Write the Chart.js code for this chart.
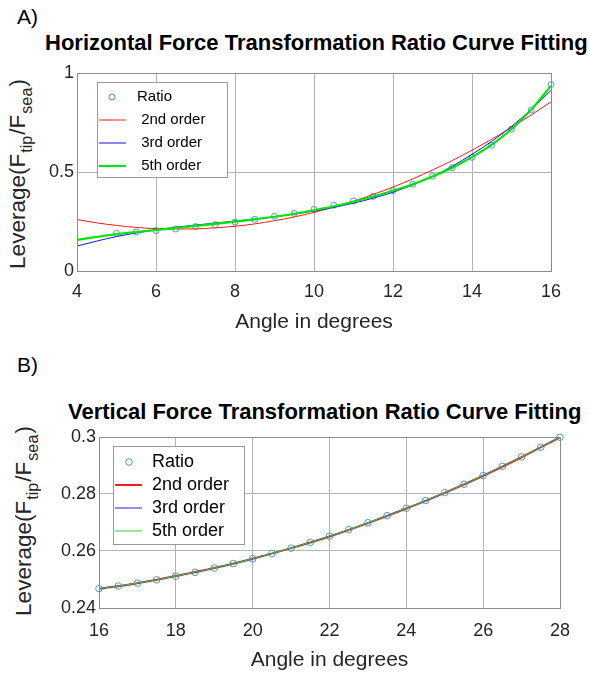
<!DOCTYPE html>
<html>
<head>
<meta charset="utf-8">
<script src="https://cdn.jsdelivr.net/npm/chart.js@4.4.1/dist/chart.umd.min.js"></script>
<style>
  html, body { margin:0; padding:0; background:#fff; }
  body { width:590px; height:675px; position:relative; overflow:hidden; font-family:"Liberation Sans", Arial, sans-serif; }
  canvas { position:absolute; left:0; }
  .lbl { position:absolute; color:#000; white-space:nowrap; line-height:1; }
  .ttl { position:absolute; font-weight:bold; font-size:22px; color:#000; white-space:nowrap; line-height:22px; }
  .ytitle { position:absolute; font-size:22.5px; color:#262626; white-space:nowrap; line-height:1;
            transform:translate(-50%,-50%) rotate(-90deg); }
  .ytitle sub { font-size:0.72em; vertical-align:-0.45em; margin:0 1px; }
</style>
</head>
<body>
<div class="lbl" style="left:17px;top:6px;font-size:21px;">A)</div>
<div class="ttl" style="left:45px;top:32px;">Horizontal Force Transformation Ratio Curve Fitting</div>
<div class="ytitle" style="left:21px;top:174px;">Leverage(F<sub>tip</sub>/F<sub>sea</sub>)</div>

<div class="lbl" style="left:17px;top:354px;font-size:21px;">B)</div>
<div class="ttl" style="left:68px;top:401px;">Vertical Force Transformation Ratio Curve Fitting</div>
<div class="ytitle" style="left:27px;top:521px;">Leverage(F<sub>tip</sub>/F<sub>sea</sub>)</div>

<canvas id="chartA" width="590" height="340" style="top:0px"></canvas>
<canvas id="chartB" width="590" height="335" style="top:340px"></canvas>

<script>
// ---------- DATA ----------
const seriesLabelsA = ['Ratio', ' 2nd order', ' 3rd order', ' 5th order'];
const seriesLabelsB = ['Ratio', '2nd order', '3rd order', '5th order'];

// Chart A: horizontal force transformation ratio
const anglesA = [5,5.5,6,6.5,7,7.5,8,8.5,9,9.5,10,10.5,11,11.5,12,12.5,13,13.5,14,14.5,15,15.5,16];
const ratioA  = [0.190,0.197,0.204,0.212,0.224,0.234,0.247,0.261,0.276,0.291,0.311,0.332,0.354,0.377,0.406,0.438,0.478,0.522,0.574,0.635,0.716,0.813,0.941];
const fitAnglesA = [4,4.5,5,5.5,6,6.5,7,7.5,8,8.5,9,9.5,10,10.5,11,11.5,12,12.5,13,13.5,14,14.5,15,15.5,16];
const fit2A = [0.260,0.243,0.230,0.220,0.214,0.212,0.213,0.218,0.226,0.238,0.254,0.273,0.296,0.323,0.353,0.387,0.424,0.465,0.510,0.558,0.610,0.666,0.725,0.788,0.854];
const fit3A = [0.126,0.151,0.174,0.192,0.208,0.221,0.232,0.242,0.252,0.262,0.274,0.287,0.303,0.321,0.343,0.368,0.398,0.435,0.478,0.529,0.589,0.655,0.730,0.816,0.912];
const fit5A = [0.157,0.172,0.186,0.197,0.207,0.217,0.228,0.238,0.249,0.261,0.274,0.289,0.307,0.327,0.350,0.376,0.405,0.438,0.477,0.522,0.575,0.638,0.716,0.815,0.935];
const xTicksA = [4,6,8,10,12,14,16];
const yTicksA = [0,0.5,1];
const yTickLabelsA = ['0','0.5','1'];

// Chart B: vertical force transformation ratio
const anglesB = [16,16.5,17,17.5,18,18.5,19,19.5,20,20.5,21,21.5,22,22.5,23,23.5,24,24.5,25,25.5,26,26.5,27,27.5,28];
const ratioB  = [0.2468,0.2477,0.2487,0.2499,0.2512,0.2525,0.2540,0.2556,0.2573,0.2591,0.2610,0.2630,0.2652,0.2675,0.2699,0.2724,0.2750,0.2777,0.2805,0.2834,0.2865,0.2897,0.2930,0.2964,0.2999];
const fitAnglesB = [16,17,18,19,20,21,22,23,24,25,26,27,28];
const fit2B = [0.2467,0.2487,0.2512,0.2540,0.2573,0.2610,0.2651,0.2698,0.2749,0.2804,0.2864,0.2929,0.2999];
const fit3B = [0.2468,0.2487,0.2512,0.2540,0.2573,0.2610,0.2652,0.2699,0.2750,0.2805,0.2865,0.2930,0.2999];
const fit5B = [0.2468,0.2487,0.2512,0.2540,0.2573,0.2610,0.2652,0.2699,0.2750,0.2805,0.2865,0.2930,0.2999];
const xTicksB = [16,18,20,22,24,26,28];
const yTicksB = [0.24,0.26,0.28,0.3];
const yTickLabelsB = ['0.24','0.26','0.28','0.3'];

// ---------- HELPERS ----------
const FONT = '"Liberation Sans", Arial, sans-serif';
const pts = (xs, ys) => xs.map((x, i) => ({x, y: ys[i]}));

const boxPlugin = {
  id: 'axesBox',
  afterDatasetsDraw(chart) {
    const {ctx, chartArea: a} = chart;
    ctx.save();
    ctx.strokeStyle = '#8c8c8c';
    ctx.lineWidth = 1;
    ctx.strokeRect(Math.round(a.left) + 0.5, Math.round(a.top) + 0.5,
                   Math.round(a.right - a.left), Math.round(a.bottom - a.top));
    ctx.restore();
  }
};

const legendPlugin = {
  id: 'innerLegend',
  afterDraw(chart, args, o) {
    const ctx = chart.ctx;
    ctx.save();
    ctx.fillStyle = '#ffffff';
    ctx.fillRect(o.x, o.y, o.w, o.h);
    ctx.strokeStyle = '#9a9a9a';
    ctx.lineWidth = 1;
    ctx.strokeRect(o.x + 0.5, o.y + 0.5, o.w, o.h);
    ctx.font = o.size + 'px ' + FONT;
    ctx.textBaseline = 'middle';
    chart.data.datasets.forEach((ds, i) => {
      const y = o.y + o.first + i * o.row;
      if (ds.showLine === false) {
        ctx.beginPath();
        ctx.strokeStyle = ds.borderColor;
        ctx.lineWidth = 1;
        ctx.arc(o.markerX, y, ds.pointRadius, 0, Math.PI * 2);
        ctx.stroke();
      } else {
        ctx.beginPath();
        ctx.strokeStyle = ds.borderColor;
        ctx.lineWidth = ds.borderWidth;
        ctx.moveTo(o.lineX0, y);
        ctx.lineTo(o.lineX1, y);
        ctx.stroke();
      }
      ctx.fillStyle = '#000';
      ctx.fillText(ds.label, o.textX, y);
    });
    ctx.restore();
  }
};

function makeScales(xMin, xMax, xTicks, yMin, yMax, yTicks, yLabels, yWidth, xHeight, titlePad, tickPadX) {
  return {
    x: {
      type: 'linear', min: xMin, max: xMax,
      afterBuildTicks: s => { s.ticks = xTicks.map(v => ({value: v})); },
      afterFit: s => { s.height = xHeight; },
      grid: { color: '#b4b4b4', drawTicks: false, lineWidth: 1 },
      border: { display: false },
      ticks: { color: '#262626', font: { family: FONT, size: 18 }, padding: tickPadX, maxRotation: 0,
               callback: v => String(v) },
      title: { display: true, text: 'Angle in degrees', color: '#262626',
               font: { family: FONT, size: 21 }, padding: { top: 0, bottom: titlePad } }
    },
    y: {
      type: 'linear', min: yMin, max: yMax,
      afterBuildTicks: s => { s.ticks = yTicks.map(v => ({value: v})); },
      afterFit: s => { s.width = yWidth; },
      grid: { color: '#b4b4b4', drawTicks: false, lineWidth: 1 },
      border: { display: false },
      ticks: { color: '#262626', font: { family: FONT, size: 18 }, padding: 3,
               callback: v => yLabels[yTicks.indexOf(v)] !== undefined ? yLabels[yTicks.indexOf(v)] : String(v) }
    }
  };
}

const markerColor = '#4a9bd1';

// ---------- CHART A ----------
new Chart(document.getElementById('chartA'), {
  type: 'scatter',
  data: {
    datasets: [
      { label: seriesLabelsA[0], data: pts(anglesA, ratioA), showLine: false, pointRadius: 3,
        pointStyle: 'circle', borderColor: markerColor, backgroundColor: 'rgba(0,0,0,0)', borderWidth: 1, order: 4, clip: false },
      { label: seriesLabelsA[1], data: pts(fitAnglesA, fit2A), showLine: true, pointRadius: 0,
        borderColor: '#ff1a1a', borderWidth: 1, cubicInterpolationMode: 'monotone', order: 3 },
      { label: seriesLabelsA[2], data: pts(fitAnglesA, fit3A), showLine: true, pointRadius: 0,
        borderColor: '#1010ff', borderWidth: 1, cubicInterpolationMode: 'monotone', order: 2 },
      { label: seriesLabelsA[3], data: pts(fitAnglesA, fit5A), showLine: true, pointRadius: 0,
        borderColor: '#00e600', borderWidth: 2.2, cubicInterpolationMode: 'monotone', order: 1 }
    ]
  },
  options: {
    responsive: false, animation: false, devicePixelRatio: 1,
    layout: { padding: { left: 0, right: 39, top: 73, bottom: 0 } },
    scales: makeScales(4, 16, xTicksA, 0, 1, yTicksA, yTickLabelsA, 77, 69, 5, 10),
    plugins: {
      legend: { display: false }, title: { display: false }, tooltip: { enabled: false },
      innerLegend: { x: 97, y: 82, w: 130, h: 95, first: 15, row: 23, size: 15,
                     markerX: 112, lineX0: 99, lineX1: 126, textX: 137 }
    }
  },
  plugins: [boxPlugin, legendPlugin]
});

// ---------- CHART B ----------
new Chart(document.getElementById('chartB'), {
  type: 'scatter',
  data: {
    datasets: [
      { label: seriesLabelsB[0], data: pts(anglesB, ratioB), showLine: false, pointRadius: 3.3,
        pointStyle: 'circle', borderColor: markerColor, backgroundColor: 'rgba(0,0,0,0)', borderWidth: 1, order: 4, clip: false },
      { label: seriesLabelsB[1], data: pts(fitAnglesB, fit2B), showLine: true, pointRadius: 0,
        borderColor: '#ff1a1a', borderWidth: 2, cubicInterpolationMode: 'monotone', order: 3 },
      { label: seriesLabelsB[2], data: pts(fitAnglesB, fit3B), showLine: true, pointRadius: 0,
        borderColor: '#2020ff', borderWidth: 1, cubicInterpolationMode: 'monotone', order: 2 },
      { label: seriesLabelsB[3], data: pts(fitAnglesB, fit5B), showLine: true, pointRadius: 0,
        borderColor: '#33cc33', borderWidth: 1, cubicInterpolationMode: 'monotone', order: 1 }
    ]
  },
  options: {
    responsive: false, animation: false, devicePixelRatio: 1,
    layout: { padding: { left: 0, right: 30, top: 97, bottom: 0 } },
    scales: makeScales(16, 28, xTicksB, 0.24, 0.3, yTicksB, yTickLabelsB, 99, 67, 2, 12),
    plugins: {
      legend: { display: false }, title: { display: false }, tooltip: { enabled: false },
      innerLegend: { x: 113, y: 106, w: 131, h: 98, first: 16, row: 23, size: 18,
                     markerX: 129, lineX0: 115, lineX1: 142, textX: 152 }
    }
  },
  plugins: [boxPlugin, legendPlugin]
});
</script>
</body>
</html>
